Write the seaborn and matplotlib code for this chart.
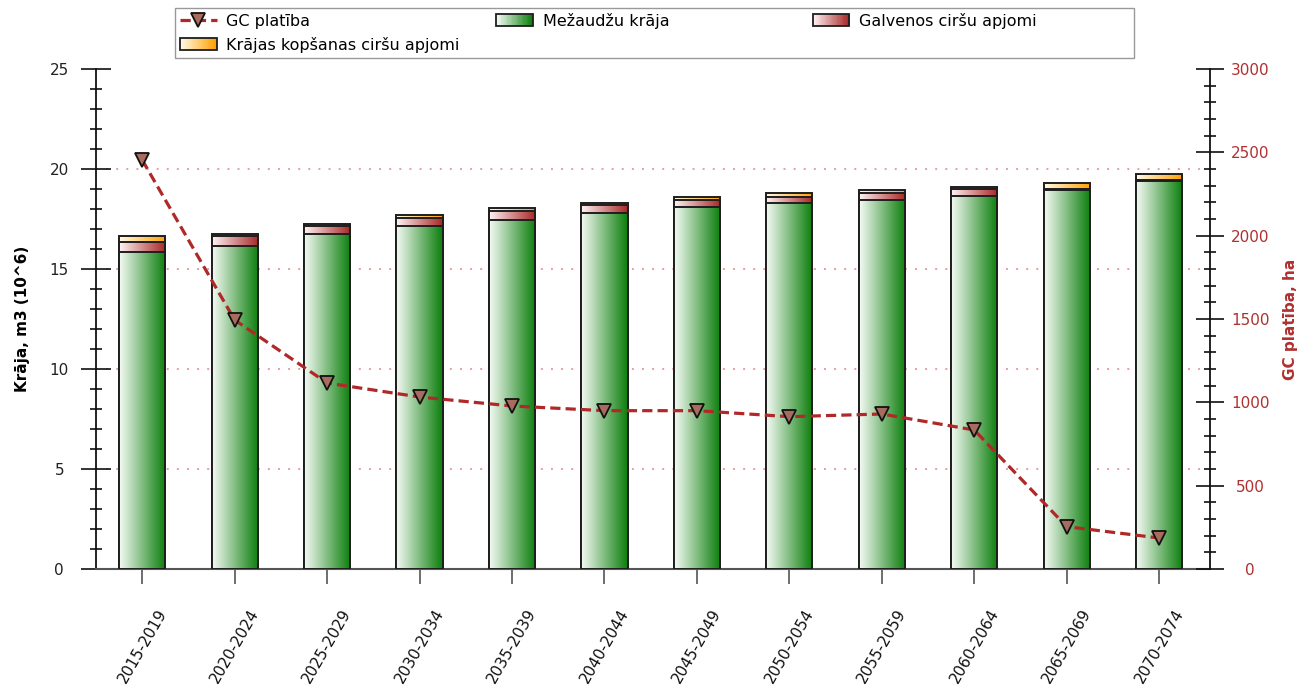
import numpy as np
import pandas as pd
import matplotlib
matplotlib.use("Agg")
import matplotlib.pyplot as plt
import seaborn as sns
from matplotlib.legend_handler import HandlerBase
from matplotlib.patches import Rectangle
from matplotlib.lines import Line2D
from matplotlib.colors import LinearSegmentedColormap, to_rgb
from matplotlib.ticker import MultipleLocator

# ---------------- data ----------------
periods = ["2015-2019", "2020-2024", "2025-2029", "2030-2034", "2035-2039", "2040-2044",
           "2045-2049", "2050-2054", "2055-2059", "2060-2064", "2065-2069", "2070-2074"]
mezaudzu_kraja = [15.83, 16.17, 16.74, 17.17, 17.47, 17.80, 18.08, 18.32, 18.47, 18.65, 18.95, 19.42]
galvenos_cirsu = [0.50, 0.50, 0.41, 0.38, 0.42, 0.40, 0.37, 0.30, 0.32, 0.34, 0.04, 0.04]
kopsanas_cirsu = [0.33, 0.06, 0.08, 0.15, 0.17, 0.10, 0.17, 0.17, 0.17, 0.13, 0.30, 0.30]
gc_platiba = [2454, 1494, 1116, 1032, 978, 950, 950, 914, 930, 834, 254, 186]

lbl_gc = "GC platība"
lbl_mez = "Mežaudžu krāja"
lbl_galv = "Galvenos ciršu apjomi"
lbl_kops = "Krājas kopšanas ciršu apjomi"

# ---------------- style ----------------
plt.rcParams["font.family"] = ["DejaVu Sans"]
RED_TXT = "#B03030"
LINE_C = "#B02828"
GREEN = ("#F6FBF6", "#0A7E0A")
RED = ("#FFF4F4", "#A82626")
YELLOW = ("#FFFBEA", "#FFA000")

df = pd.DataFrame({
    "period": periods,
    "green": mezaudzu_kraja,
    "red": galvenos_cirsu,
    "yellow": kopsanas_cirsu,
    "gc": gc_platiba,
})
df["lvl2"] = df["green"] + df["red"]
df["lvl3"] = df["lvl2"] + df["yellow"]

W, H = 1309, 692
fig = plt.figure(figsize=(W / 100, H / 100), dpi=100)
fig.patch.set_facecolor("white")
ax = fig.add_axes([96 / W, 1 - 569 / H, (1210 - 96) / W, (569 - 69) / H])
ax.set_facecolor("none")

grad = np.linspace(0, 1, 256).reshape(1, -1)

layers = [("lvl3", YELLOW), ("lvl2", RED), ("green", GREEN)]
for i, (col, (c0, c1)) in enumerate(layers):
    cmap = LinearSegmentedColormap.from_list(col, [c0, c1])
    n0 = len(ax.patches)
    sns.barplot(data=df, x="period", y=col, ax=ax, width=0.5, color="white",
                edgecolor="#1E1E1E", linewidth=1.4, errorbar=None)
    zb = 3 + 2 * i
    for p in ax.patches[n0:]:
        p.set_facecolor("none")
        p.set_zorder(zb + 1)
        x0, y0 = p.get_x(), p.get_y()
        w, h = p.get_width(), p.get_height()
        im = ax.imshow(grad, cmap=cmap, extent=(x0, x0 + w, y0, y0 + h),
                       aspect="auto", zorder=zb, interpolation="bilinear")
        im.set_clip_path(p)

ax2 = ax.twinx()
sns.pointplot(data=df, x="period", y="gc", ax=ax2, color=LINE_C, markers="v",
              linestyles="--", errorbar=None, markersize=10, linewidth=2.3)
for ln in ax2.lines:
    ln.set_markerfacecolor("#A86C5E")
    ln.set_markeredgecolor("#111111")
    ln.set_markeredgewidth(1.3)
    ln.set_dashes((3.2, 1.6))

# ---------------- axes ----------------
ax.set_ylim(0, 25)
ax2.set_ylim(0, 3000)
ax.set_xlim(-0.50, 11.55)
ax2.set_xlim(-0.50, 11.55)

ax.set_xlabel("")
ax2.set_xlabel("")
ax.set_ylabel("Krāja, m3 (10^6)", fontsize=11, fontweight="bold", color="black")
ax.yaxis.set_label_coords(-(96 - 30) / (1210 - 96), 0.5)
ax2.set_ylabel("GC platība, ha", fontsize=11, fontweight="bold", color=RED_TXT)
ax2.yaxis.set_label_coords((1283 - 96) / (1210 - 96), 0.5)

for sp in ["top", "right"]:
    ax.spines[sp].set_visible(False)
for sp in ["top", "left", "bottom"]:
    ax2.spines[sp].set_visible(False)
ax.spines["left"].set_color("#111111")
ax.spines["left"].set_linewidth(1.3)
ax.spines["bottom"].set_color("#555555")
ax.spines["bottom"].set_linewidth(1.5)
ax2.spines["right"].set_color("#111111")
ax2.spines["right"].set_linewidth(1.3)

ax.yaxis.set_major_locator(MultipleLocator(5))
ax.yaxis.set_minor_locator(MultipleLocator(1))
ax2.yaxis.set_major_locator(MultipleLocator(500))
ax2.yaxis.set_minor_locator(MultipleLocator(100))

ax.tick_params(axis="y", which="major", direction="inout", length=21, width=1.2,
               color="#111111", labelsize=11, labelcolor="#222222", pad=16)
ax.tick_params(axis="y", which="minor", direction="inout", length=8, width=1.2,
               color="#111111")
ax2.tick_params(axis="y", which="major", direction="inout", length=20, width=1.2,
                color="#111111", labelsize=11, labelcolor=RED_TXT, pad=19)
ax2.tick_params(axis="y", which="minor", direction="inout", length=8, width=1.2,
                color="#111111")
ax.tick_params(axis="x", which="major", direction="out", length=11, width=1.2,
               color="#555555", labelsize=11, labelcolor="#111111", pad=16,
               labelrotation=60)
ax.tick_params(axis="x", which="minor", length=0)
ax2.tick_params(axis="x", which="both", length=0, labelbottom=False)

plt.setp(ax.get_yticklabels(), ha="center")
plt.setp(ax2.get_yticklabels(), ha="center")
plt.setp(ax.get_xticklabels(), ha="center", va="top")

ax.set_axisbelow(True)
ax.yaxis.grid(True, which="major", color="#E4A0A0", linestyle=(0, (1, 4.2)), linewidth=1.4)
ax.xaxis.grid(False)
ax2.grid(False)
for gl, loc in zip(ax.yaxis.get_gridlines(), ax.get_yticks()):
    if loc <= 0 or loc >= 25:
        gl.set_visible(False)


# ---------------- legend ----------------
class GradientHandler(HandlerBase):
    def __init__(self, c0, c1, n=30):
        super().__init__()
        self.c0 = np.array(to_rgb(c0))
        self.c1 = np.array(to_rgb(c1))
        self.n = n

    def create_artists(self, legend, orig_handle, xdescent, ydescent, width, height,
                       fontsize, trans):
        arts = []
        for k in range(self.n):
            t = k / (self.n - 1)
            r = Rectangle((-xdescent + width * k / self.n, -ydescent), width / self.n + 0.3,
                          height, facecolor=tuple(self.c0 + (self.c1 - self.c0) * t),
                          edgecolor="none", linewidth=0, antialiased=False, transform=trans)
            arts.append(r)
        arts.append(Rectangle((-xdescent, -ydescent), width, height, facecolor="none",
                              edgecolor="#1E1E1E", linewidth=1.3, transform=trans))
        return arts


h_gc = Line2D([], [], color=LINE_C, linestyle="--", dashes=(3.2, 1.6), linewidth=2.3,
              marker="v", markersize=10, markerfacecolor="#A86C5E",
              markeredgecolor="#111111", markeredgewidth=1.3)
h_mez = Rectangle((0, 0), 1, 1)
h_galv = Rectangle((0, 0), 1, 1)
h_kops = Rectangle((0, 0), 1, 1)
hmap = {h_mez: GradientHandler(*GREEN), h_galv: GradientHandler(*RED),
        h_kops: GradientHandler(*YELLOW)}

leg = fig.legend([h_gc, h_kops, h_mez, h_galv], [lbl_gc, lbl_kops, lbl_mez, lbl_galv],
                 handler_map=hmap, ncol=3, loc="upper left",
                 bbox_to_anchor=(175 / W, 1 - 8 / H), bbox_transform=fig.transFigure,
                 frameon=True, fancybox=False, edgecolor="#999999", framealpha=1,
                 fontsize=11.5, handlelength=2.3, handleheight=0.75, handletextpad=0.6,
                 borderpad=0.3, labelspacing=0.5, columnspacing=2.3, borderaxespad=0)
leg.get_frame().set_linewidth(1.0)
try:
    leg._legend_handle_box.mode = "equal"
except Exception:
    pass

fig.savefig("out.png", dpi=100, facecolor="white")
